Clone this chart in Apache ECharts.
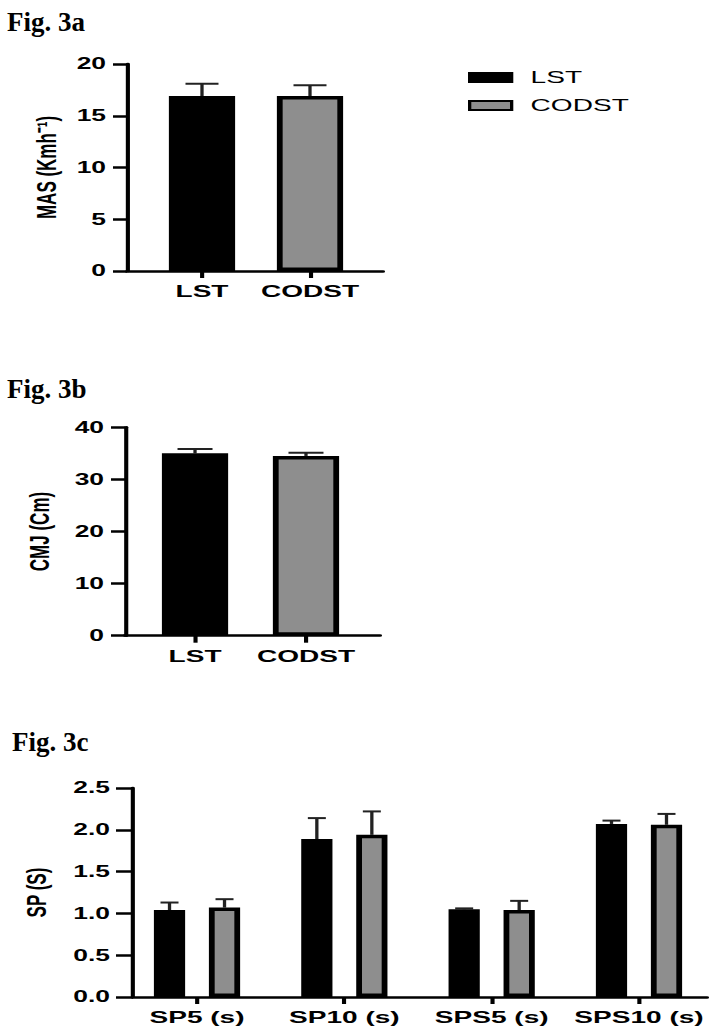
<!DOCTYPE html>
<html>
<head>
<meta charset="utf-8">
<script src="https://cdn.jsdelivr.net/npm/echarts@6/dist/echarts.min.js"></script>
<style>
html,body{margin:0;padding:0;background:#fff;overflow:hidden}
#wrap{position:relative;width:715px;height:1031px}
#chart{position:absolute;left:0;top:0;height:1031px;transform-origin:0 0}
#titles{position:absolute;left:0;top:0;width:715px;height:1031px;pointer-events:none}
</style>
</head>
<body>
<div id="wrap"><div id="chart"></div><div id="titles"></div></div>
<script>
// ---------- data ----------
const seriesNames = ['LST', 'CODST'];

const masCategories = ['LST', 'CODST'];
const masMean = [16.9, 16.9];
const masSD = [1.2, 1.05];

const cmjCategories = ['LST', 'CODST'];
const cmjMean = [35.0, 34.5];
const cmjSD = [0.85, 0.6];

const spCategories = ['SP5 (s)', 'SP10 (s)', 'SPS5 (s)', 'SPS10 (s)'];
const spLST = [1.04, 1.89, 1.05, 2.07];
const spLSTsd = [0.09, 0.25, 0.01, 0.04];
const spCODST = [1.07, 1.94, 1.04, 2.06];
const spCODSTsd = [0.10, 0.28, 0.11, 0.13];

const titles = ['Fig. 3a', 'Fig. 3b', 'Fig. 3c'];
const yNames = ['MAS (Kmh\u207B\u00B9)', 'CMJ (Cm)', 'SP (S)'];

// ---------- layout / style ----------
const S = 1.65;               // horizontal stretch of the original figure
const px = v => v / S;
const BLACK = '#000';
const GRAY = '#8e8e8e';
const BW = 3.5;
const FONT = "'Liberation Sans', Arial, sans-serif";

document.getElementById('chart').style.width = (715 / S) + 'px';
document.getElementById('chart').style.transform = 'scaleX(' + S + ')';

function errRender(offset, capW) {
  return function (params, api) {
    const x = api.value(0), v = api.value(1), e = api.value(2);
    const p0 = api.coord([x, v]);
    const p1 = api.coord([x, e]);
    const cx = p0[0] + offset;
    const st = { stroke: '#222', lineWidth: 2 };
    return {
      type: 'group',
      children: [
        { type: 'line', shape: { x1: cx, y1: p0[1], x2: cx, y2: p1[1] }, style: st },
        { type: 'line', shape: { x1: cx - capW / 2, y1: p1[1], x2: cx + capW / 2, y2: p1[1] }, style: st }
      ]
    };
  };
}

function xAxisCfg(gi, min, max, cats, fs) {
  const vals = cats.map((c, i) => i + 1);
  return {
    gridIndex: gi, type: 'value', min: min, max: max,
    axisLine: { show: true, onZero: false, lineStyle: { color: BLACK, width: 2.5 } },
    axisTick: { show: true, length: 7, customValues: vals, lineStyle: { color: BLACK, width: 2.5 } },
    axisLabel: {
      customValues: vals, margin: 12, color: BLACK, fontFamily: FONT, fontWeight: 'bold', fontSize: fs,
      formatter: v => cats[Math.round(v) - 1]
    },
    splitLine: { show: false }
  };
}

function yAxisCfg(gi, min, max, interval, name, nameGap, tickLen, margin, dec) {
  return {
    gridIndex: gi, type: 'value', min: min, max: max, interval: interval,
    name: name, nameLocation: 'middle', nameGap: nameGap,
    nameTextStyle: { color: BLACK, fontFamily: FONT, fontWeight: 'bold', fontSize: 17 },
    axisLine: { show: true, onZero: false, lineStyle: { color: BLACK, width: 2.5 } },
    axisTick: { show: true, length: tickLen, lineStyle: { color: BLACK, width: 2.5 } },
    axisLabel: {
      margin: margin, color: BLACK, fontFamily: FONT, fontWeight: 'bold', fontSize: 16,
      formatter: v => dec ? v.toFixed(dec) : String(v)
    },
    splitLine: { show: false }
  };
}

const barStyle = c => ({ color: c, borderColor: BLACK, borderWidth: BW });

const wAB = px(72) - BW;
const wC = px(37) - BW;
const gapC = px(18) + BW;
const offC = (wC + gapC) / 2;

const series = [
  // Fig 3a
  { type: 'bar', name: seriesNames[0], xAxisIndex: 0, yAxisIndex: 0, barWidth: wAB, barGap: '-100%',
    itemStyle: barStyle(BLACK), data: [[1, masMean[0]]] },
  { type: 'bar', name: seriesNames[1], xAxisIndex: 0, yAxisIndex: 0, barWidth: wAB, barGap: '-100%',
    itemStyle: barStyle(GRAY), data: [[2, masMean[1]]] },
  { type: 'custom', name: 'errA', xAxisIndex: 0, yAxisIndex: 0, renderItem: errRender(0, px(33)),
    data: masCategories.map((c, i) => [i + 1, masMean[i], masMean[i] + masSD[i]]), z: 1 },
  // Fig 3b
  { type: 'bar', name: seriesNames[0], xAxisIndex: 1, yAxisIndex: 1, barWidth: wAB, barGap: '-100%',
    itemStyle: barStyle(BLACK), data: [[1, cmjMean[0]]] },
  { type: 'bar', name: seriesNames[1], xAxisIndex: 1, yAxisIndex: 1, barWidth: wAB, barGap: '-100%',
    itemStyle: barStyle(GRAY), data: [[2, cmjMean[1]]] },
  { type: 'custom', name: 'errB', xAxisIndex: 1, yAxisIndex: 1, renderItem: errRender(0, px(35)),
    data: cmjCategories.map((c, i) => [i + 1, cmjMean[i], cmjMean[i] + cmjSD[i]]), z: 1 },
  // Fig 3c
  { type: 'bar', name: seriesNames[0], xAxisIndex: 2, yAxisIndex: 2, barWidth: wC, barGap: (gapC / wC * 100) + '%',
    itemStyle: barStyle(BLACK), data: spLST.map((v, i) => [i + 1, v]) },
  { type: 'bar', name: seriesNames[1], xAxisIndex: 2, yAxisIndex: 2, barWidth: wC, barGap: (gapC / wC * 100) + '%',
    itemStyle: barStyle(GRAY), data: spCODST.map((v, i) => [i + 1, v]) },
  { type: 'custom', name: 'errC1', xAxisIndex: 2, yAxisIndex: 2, renderItem: errRender(-offC, px(18)),
    data: spLST.map((v, i) => [i + 1, v, v + spLSTsd[i]]), z: 1 },
  { type: 'custom', name: 'errC2', xAxisIndex: 2, yAxisIndex: 2, renderItem: errRender(offC, px(18)),
    data: spCODST.map((v, i) => [i + 1, v, v + spCODSTsd[i]]), z: 1 }
];

const chart = echarts.init(document.getElementById('chart'), null, { renderer: 'svg' });
chart.setOption({
  animation: false,
  backgroundColor: 'transparent',
  grid: [
    { left: px(127), top: 64, width: px(383 - 127), height: 207 },
    { left: px(125), top: 427.3, width: px(380 - 125), height: 208.4 },
    { left: px(133), top: 788, width: px(707 - 133), height: 209 }
  ],
  legend: {
    data: seriesNames, orient: 'vertical', left: px(468), top: 68.5, padding: 0,
    itemWidth: px(42), itemHeight: 9, itemGap: 10, icon: 'rect',
    textStyle: { color: BLACK, fontFamily: FONT, fontSize: 17, lineHeight: 18, padding: [0, 0, 0, 6.5] }
  },
  xAxis: [
    xAxisCfg(0, 0.3056, 2.676, masCategories, 17),
    xAxisCfg(1, 0.369, 2.667, cmjCategories, 17),
    xAxisCfg(2, 0.5655, 4.4616, spCategories, 17)
  ],
  yAxis: [
    yAxisCfg(0, 0, 20, 5, yNames[0], px(67), px(14), px(21), 0),
    yAxisCfg(1, 0, 40, 10, yNames[1], px(72), px(14), px(21), 0),
    yAxisCfg(2, 0, 2.5, 0.5, yNames[2], px(83), px(17), px(23), 1)
  ],
  series: series
});

const tchart = echarts.init(document.getElementById('titles'), null, { renderer: 'svg' });
const tStyle = { color: BLACK, fontFamily: "'Liberation Serif', 'Times New Roman', serif", fontWeight: 'bold', fontSize: 27 };
tchart.setOption({
  animation: false,
  backgroundColor: 'transparent',
  title: [
    { text: titles[0], left: 7, top: 8, padding: 0, textStyle: tStyle },
    { text: titles[1], left: 7, top: 375, padding: 0, textStyle: tStyle },
    { text: titles[2], left: 12, top: 728, padding: 0, textStyle: tStyle }
  ]
});
</script>
</body>
</html>
